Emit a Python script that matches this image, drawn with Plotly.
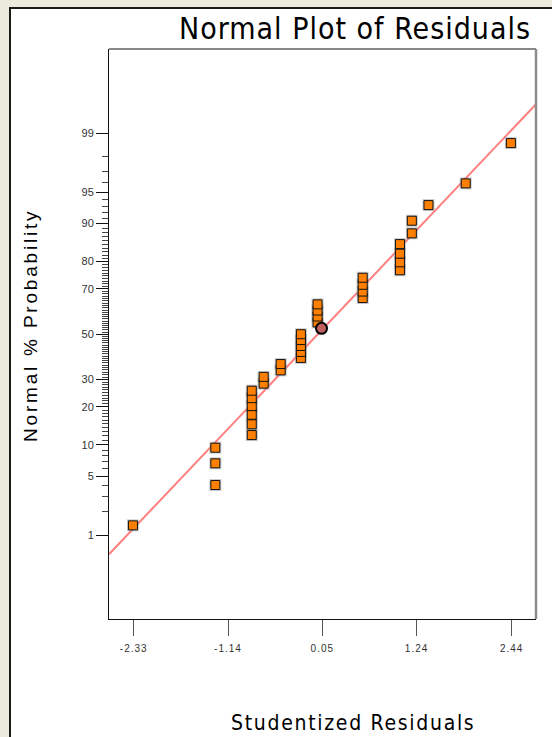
import statistics
import plotly.graph_objects as go

# ---------------- data ----------------
resid = [-2.34,
         -1.30, -1.30, -1.30,
         -0.84, -0.84, -0.84, -0.84, -0.84, -0.84,
         -0.69, -0.69,
         -0.475, -0.475,
         -0.22, -0.22, -0.22, -0.22, -0.22,
         -0.01, -0.01, -0.01, -0.01,
         0.56, 0.56, 0.56, 0.56,
         1.03, 1.03, 1.03, 1.03,
         1.18, 1.18,
         1.39, 1.86, 2.43]
prob = [1.35,
        4.05, 6.76, 9.46,
        12.16, 14.86, 17.57, 20.27, 22.97, 25.68,
        28.38, 31.08,
        33.78, 36.49,
        39.19, 41.89, 44.59, 47.30, 50.00,
        55.41, 58.11, 60.81, 63.51,
        66.22, 68.92, 71.62, 74.32,
        77.03, 79.73, 82.43, 85.14,
        87.84, 90.54,
        93.24, 95.95, 98.65]
highlight_resid = [0.04]
highlight_prob = [52.70]
line_resid = [-2.642, 2.747]
line_prob = [0.545, 99.61]

x_ticks = [-2.33, -1.14, 0.05, 1.24, 2.44]
x_ticktext = ["-2.33", "-1.14", "0.05", "1.24", "2.44"]
y_major = [1, 5, 10, 20, 30, 50, 70, 80, 90, 95, 99]
y_minor = [p for p in range(1, 100) if p not in y_major]
x_range = [-2.642, 2.747]
y_range_z = [-3.295, 3.30]

nd = statistics.NormalDist()
def z(p):
    return nd.inv_cdf(p / 100.0)

W, H = 552, 737
L, R, T, B = 109, 16, 49, 118
pw, ph = W - L - R, H - T - B

def px_x(px):
    return (px - L) / pw

def px_y(py):
    return 1 - (py - T) / ph

def spaced(s, sp):
    return '<span style="letter-spacing:%spx">%s</span>' % (sp, s)

NARROW = "Liberation Sans Narrow, Arial Narrow, DejaVu Sans Condensed, sans-serif"
REG = "Liberation Sans, Arial, sans-serif"

fig = go.Figure()

# fitted normal line
fig.add_trace(go.Scatter(
    x=line_resid, y=[z(p) for p in line_prob], mode="lines",
    line=dict(color="#FF7F7F", width=2), hoverinfo="skip", showlegend=False))

# soft shadow behind the markers
fig.add_trace(go.Scatter(
    x=resid, y=[z(p) for p in prob], mode="markers",
    marker=dict(symbol="square", size=12, color="rgba(140,140,140,0.45)",
                line=dict(width=0)),
    hoverinfo="skip", showlegend=False))

fig.add_trace(go.Scatter(
    x=resid, y=[z(p) for p in prob], mode="markers",
    marker=dict(symbol="square", size=9, color="#FF8000",
                line=dict(color="#111111", width=1)),
    showlegend=False))

fig.add_trace(go.Scatter(
    x=highlight_resid, y=[z(p) for p in highlight_prob], mode="markers",
    marker=dict(symbol="circle", size=11, color="#C0605F",
                line=dict(color="#000000", width=2)),
    showlegend=False))

shapes = [
    dict(type="rect", xref="paper", yref="paper", layer="below",
         x0=px_x(10), x1=px_x(570), y0=px_y(760), y1=px_y(8),
         fillcolor="white", line=dict(color="#1a1a1a", width=2)),
    dict(type="line", xref="paper", yref="paper", x0=0, x1=1, y0=1, y1=1,
         line=dict(color="#111111", width=1)),
    dict(type="line", xref="paper", yref="paper", x0=1, x1=1, y0=0, y1=1,
         line=dict(color="#8c8c8c", width=2.5)),
]

annotations = [
    dict(text=spaced("Normal Plot of Residuals", 1), xref="paper", yref="paper",
         x=px_x(355), y=px_y(29), xanchor="center", yanchor="middle",
         showarrow=False, font=dict(family=NARROW, size=30, color="#000000")),
    dict(text=spaced("Studentized Residuals", 1.7), xref="paper", yref="paper",
         x=px_x(353), y=px_y(723), xanchor="center", yanchor="middle",
         showarrow=False, font=dict(family=NARROW, size=21, color="#000000")),
    dict(text=spaced("Normal % Probability", 2.8), xref="paper", yref="paper",
         x=px_x(30), y=px_y(326), xanchor="center", yanchor="middle",
         textangle=-90, showarrow=False,
         font=dict(family=REG, size=19, color="#000000")),
]

fig.update_layout(
    width=W, height=H, autosize=False,
    margin=dict(l=L, r=R, t=T, b=B, pad=0),
    paper_bgcolor="#ECE9DE", plot_bgcolor="white",
    shapes=shapes, annotations=annotations,
    font=dict(family=REG, color="#333333"),
    xaxis=dict(range=x_range, tickmode="array", tickvals=x_ticks,
               ticktext=[spaced(t, 1) for t in x_ticktext],
               ticks="outside", ticklen=16, tickwidth=1, tickcolor="#555555",
               ticklabelstandoff=4,
               showgrid=False, zeroline=False, showline=True, linecolor="#111111",
               linewidth=1, tickfont=dict(size=10, color="#333333")),
    yaxis=dict(range=y_range_z, tickmode="array", tickvals=[z(p) for p in y_major],
               ticktext=[str(p) for p in y_major],
               ticks="outside", ticklen=12, tickwidth=1, tickcolor="#111111",
               minor=dict(tickmode="array", tickvals=[z(p) for p in y_minor],
                          ticks="outside", ticklen=6, tickwidth=1, tickcolor="#444444",
                          showgrid=False),
               showgrid=False, zeroline=False, showline=True, linecolor="#111111",
               linewidth=1, tickfont=dict(size=11, color="#333333")),
)

fig.write_html("out.html")
